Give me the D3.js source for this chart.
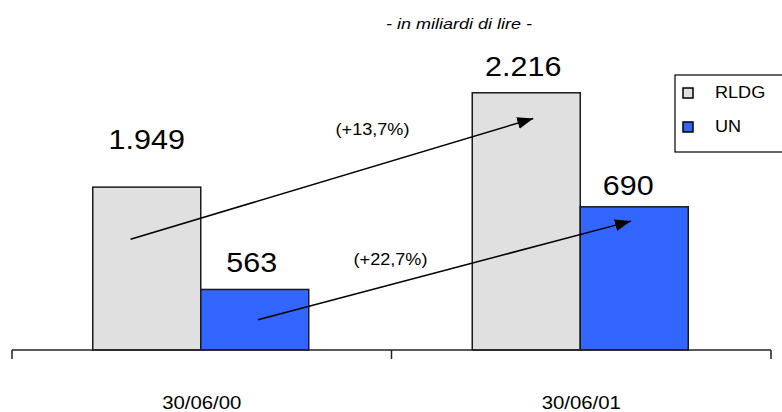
<!DOCTYPE html>
<html>
<head>
<meta charset="utf-8">
<script src="https://cdn.jsdelivr.net/npm/d3@7/dist/d3.min.js"></script>
<style>
html,body{margin:0;padding:0;background:#fff;}
svg{display:block;font-family:"Liberation Sans",Arial,sans-serif;}
</style>
</head>
<body>
<svg id="chart" width="782" height="412"></svg>
<script>
// ---- data ----
const categories = ["30/06/00", "30/06/01"];
const series = ["RLDG", "UN"];
const rldgValues = [1949, 2216];
const unValues = [563, 690];
const valueLabels = [["1.949", "563"], ["2.216", "690"]];
const growthLabels = ["(+13,7%)", "(+22,7%)"];
const subtitle = "- in miliardi di lire -";

// ---- layout ----
const W = 782, H = 412;
const plotTop = 20, baseY = 350;
const axisLeft = 12, axisRight = 771;
const colors = {RLDG: "#e0e0e0", UN: "#3366ff"};
const SX = 1.13; // horizontal text stretch of the original rendering
const labelDy = [[38, 17], [17, 12]];
const labelDx = [[0, -3], [-3, -6]];

const svg = d3.select("#chart");

const x = d3.scaleBand().domain(categories).range([axisLeft, axisRight]).padding(0);
const x1 = d3.scaleBand().domain(series).range([-109, 107]).padding(0);
// the two series are drawn on separate (non-zero based) value scales, as in the original
const yR = d3.scaleLinear().domain([1488, 2422]).range([baseY, plotTop]);
const yU = d3.scaleLinear().domain([470, 977]).range([baseY, plotTop]);
const yFor = s => (s === "RLDG" ? yR : yU);
const valsFor = s => (s === "RLDG" ? rldgValues : unValues);

function stretchedText(g, px, py, txt, size, opts = {}) {
  return g.append("text")
    .attr("transform", `translate(${px},${py}) scale(${opts.sx || SX},1)`)
    .attr("text-anchor", opts.anchor || "middle")
    .attr("font-size", size)
    .attr("font-style", opts.italic ? "italic" : "normal")
    .attr("fill", "#000")
    .text(txt);
}

// subtitle
stretchedText(svg, 459, 29, subtitle, 15, {italic: true, sx: 1.2});

// bars
const data = [];
categories.forEach((c, i) => series.forEach((s, j) => data.push({c, s, i, j, v: valsFor(s)[i]})));
const barX = d => x(d.c) + x.bandwidth() / 2 + x1(d.s);

svg.append("g").selectAll("rect").data(data).join("rect")
  .attr("x", barX)
  .attr("y", d => yFor(d.s)(d.v))
  .attr("width", x1.bandwidth())
  .attr("height", d => baseY - yFor(d.s)(d.v))
  .attr("fill", d => colors[d.s])
  .attr("stroke", "#1a1a1a")
  .attr("stroke-width", 1.5);

// value labels
const lg = svg.append("g");
data.forEach(d => {
  stretchedText(lg, barX(d) + x1.bandwidth() / 2 + labelDx[d.i][d.j],
    yFor(d.s)(d.v) - labelDy[d.i][d.j], valueLabels[d.i][d.j], 27);
});

// axis
const ax = svg.append("g").attr("stroke", "#222").attr("stroke-width", 1.5);
ax.append("line").attr("x1", axisLeft).attr("x2", axisRight).attr("y1", baseY).attr("y2", baseY);
const tickXs = categories.map(c => x(c)).concat([x(categories[categories.length - 1]) + x.bandwidth()]);
ax.selectAll("line.tick").data(tickXs).join("line").attr("class", "tick")
  .attr("x1", d => d).attr("x2", d => d).attr("y1", baseY).attr("y2", baseY + 9);
categories.forEach(c => stretchedText(svg, x(c) + x.bandwidth() / 2, 409, c, 18));

// arrows (from a point in the first period's bar to a point in the second period's bar)
svg.append("defs").append("marker")
  .attr("id", "head").attr("markerUnits", "userSpaceOnUse")
  .attr("viewBox", "0 0 16 12").attr("refX", 16).attr("refY", 6)
  .attr("markerWidth", 16).attr("markerHeight", 12).attr("orient", "auto")
  .append("path").attr("d", "M0,0L16,6L0,12Z").attr("fill", "#000");

const arrowSpec = [
  {s: "RLDG", fx0: 0.35, fy0: 0.32, fx1: 0.565, fy1: 0.10},
  {s: "UN", fx0: 0.53, fy0: 0.50, fx1: 0.47, fy1: 0.10}
];
function ptIn(ci, s, fx, fy) {
  const v = valsFor(s)[ci];
  const top = yFor(s)(v);
  const bx = x(categories[ci]) + x.bandwidth() / 2 + x1(s);
  return [bx + fx * x1.bandwidth(), top + fy * (baseY - top)];
}
arrowSpec.forEach(a => {
  const p0 = ptIn(0, a.s, a.fx0, a.fy0), p1 = ptIn(1, a.s, a.fx1, a.fy1);
  svg.append("line").attr("x1", p0[0]).attr("y1", p0[1]).attr("x2", p1[0]).attr("y2", p1[1])
    .attr("stroke", "#000").attr("stroke-width", 1.5).attr("marker-end", "url(#head)");
});

// growth labels
const mid = x(categories[1]);
stretchedText(svg, mid - 19, 135, growthLabels[0], 16);
stretchedText(svg, mid - 1, 265, growthLabels[1], 16);

// legend
const leg = svg.append("g");
leg.append("rect").attr("x", 675).attr("y", 75).attr("width", 120).attr("height", 77)
  .attr("fill", "#fff").attr("stroke", "#000").attr("stroke-width", 1.2);
series.forEach((s, k) => {
  const yy = 88 + k * 34;
  leg.append("rect").attr("x", 683).attr("y", yy).attr("width", 10).attr("height", 10)
    .attr("fill", colors[s]).attr("stroke", "#000").attr("stroke-width", 1.5);
  stretchedText(leg, 715, yy + 10, s, 16, {anchor: "start"});
});
</script>
</body>
</html>
